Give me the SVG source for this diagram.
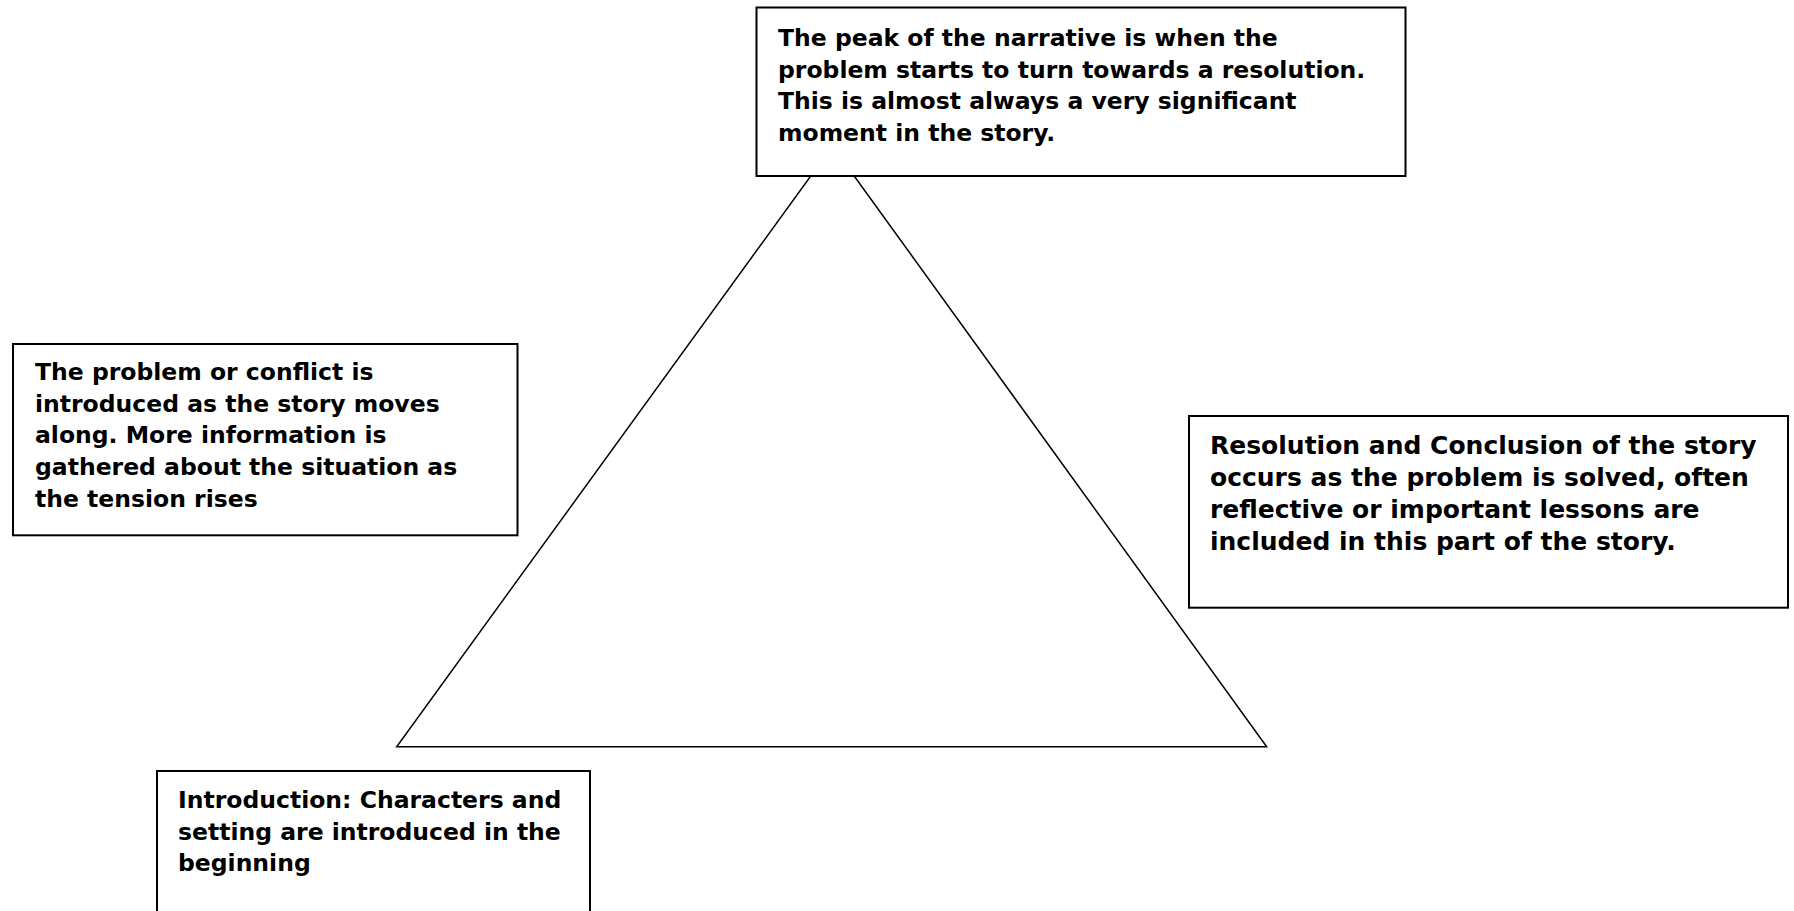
<svg xmlns="http://www.w3.org/2000/svg" width="1794" height="911" viewBox="0 0 1794 911">
<style>
.box{fill:#fff;stroke:#000;stroke-width:2}
.tri{fill:none;stroke:#000;stroke-width:1.5;stroke-linejoin:miter}
.t{font-family:"DejaVu Sans","Liberation Sans",sans-serif;font-weight:bold;font-size:23.5px;fill:#000}
</style>
<rect x="0" y="0" width="1794" height="911" fill="#fff"/>
<g id="connectors">
<polygon class="tri" points="832.5,146 1266.7,746.7 396.7,746.7"/>
</g>
<g id="peak">
<rect class="box" x="756.5" y="7.5" width="649" height="168.5"/>
<text class="t"><tspan x="778" y="46">The peak of the narrative is when the</tspan><tspan x="778" y="77.5">problem starts to turn towards a resolution.</tspan><tspan x="778" y="109">This is almost always a very significant</tspan><tspan x="778" y="140.5">moment in the story.</tspan></text>
</g>
<g id="rising">
<rect class="box" x="13" y="344" width="504.5" height="191.3"/>
<text class="t"><tspan x="35" y="380">The problem or conflict is</tspan><tspan x="35" y="411.7">introduced as the story moves</tspan><tspan x="35" y="443.4">along. More information is</tspan><tspan x="35" y="475">gathered about the situation as</tspan><tspan x="35" y="506.8">the tension rises</tspan></text>
</g>
<g id="resolution">
<rect class="box" x="1189" y="416" width="599" height="191.7"/>
<text class="t" style="font-size:25px"><tspan x="1210" y="454">Resolution and Conclusion of the story</tspan><tspan x="1210" y="486">occurs as the problem is solved, often</tspan><tspan x="1210" y="518">reflective or important lessons are</tspan><tspan x="1210" y="550">included in this part of the story.</tspan></text>
</g>
<g id="introduction">
<rect class="box" x="157" y="771" width="433" height="160"/>
<text class="t"><tspan x="178" y="807.7">Introduction: Characters and</tspan><tspan x="178" y="839.5">setting are introduced in the</tspan><tspan x="178" y="871">beginning</tspan></text>
</g>
</svg>
